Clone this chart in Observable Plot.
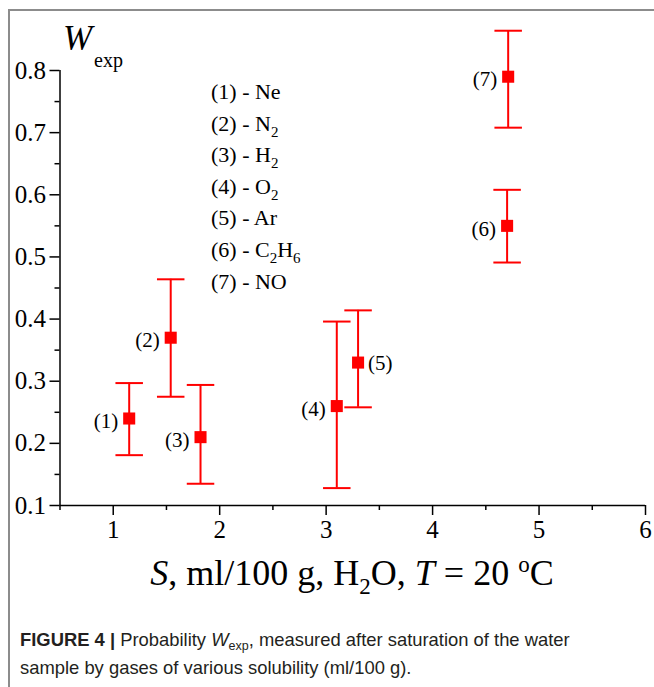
<!DOCTYPE html>
<html><head><meta charset="utf-8">
<script src="https://cdn.jsdelivr.net/npm/d3@7"></script>
<script src="https://cdn.jsdelivr.net/npm/@observablehq/plot@0.6"></script>
<style>
html,body{margin:0;padding:0;background:#fff;}
#wrap{position:relative;width:654px;height:687px;overflow:hidden;}
#border{position:absolute;left:8px;top:9px;width:660px;height:700px;border-top:2px solid #8c8c8c;border-left:2px solid #8c8c8c;}
#chart{position:absolute;left:0;top:0;}
#caption{position:absolute;left:20px;top:627px;font-family:"Liberation Sans",Arial,sans-serif;font-size:18.4px;line-height:26px;color:#231f20;white-space:nowrap;}
#caption .sub{font-size:12.5px;position:relative;top:4px;}
</style></head><body>
<div id="wrap"><div id="border"></div><div id="chart"></div>
<div id="caption"><b>FIGURE 4 |</b> Probability <i>W</i><span class="sub">exp</span>, measured after saturation of the water<br>sample by gases of various solubility (ml/100 g).</div></div>
<script>
const S = [1.15, 1.54, 1.82, 3.10, 3.30, 4.70, 4.71];
const W = [0.24, 0.37, 0.21, 0.26, 0.33, 0.55, 0.79];
const Wlo = [0.181, 0.275, 0.135, 0.128, 0.258, 0.491, 0.708];
const Whi = [0.297, 0.464, 0.294, 0.396, 0.414, 0.608, 0.864];
const pointLabels = ["(1)", "(2)", "(3)", "(4)", "(5)", "(6)", "(7)"];
const gases = ["Ne", "N_2", "H_2", "O_2", "Ar", "C_2H_6", "NO"];
const xTicks = [1, 2, 3, 4, 5, 6];
const xMinor = [0.5, 1.5, 2.5, 3.5, 4.5, 5.5];
const yTicks = [0.1, 0.2, 0.3, 0.4, 0.5, 0.6, 0.7, 0.8];
const yMinor = [0.15, 0.25, 0.35, 0.45, 0.55, 0.65, 0.75];

const data = S.map((s, i) => ({s, w: W[i], lo: Wlo[i], hi: Whi[i], label: pointLabels[i]}));
const serif = "'Liberation Serif', 'Times New Roman', serif";
const red = "#ff0000";
const capSymbol = {draw(ctx, size) { const r = Math.sqrt(size / Math.PI); ctx.moveTo(-r, 0); ctx.lineTo(r, 0); }};

const plot = Plot.plot({
  width: 654, height: 610,
  marginLeft: 59.5, marginRight: 9, marginTop: 70, marginBottom: 105,
  x: {domain: [0.5, 6]},
  y: {domain: [0.1, 0.8]},
  style: {fontFamily: serif, fontSize: "23px", color: "#000", background: "transparent", overflow: "visible"},
  marks: [
    Plot.axisX({ticks: xTicks, tickSize: 10, tickPadding: 5, strokeWidth: 1.5, fontSize: 25, tickFormat: d3.format("d"), label: null}),
    Plot.axisX({ticks: xMinor, tickSize: 5, text: null, strokeWidth: 1.5, label: null}),
    Plot.axisY({ticks: yTicks, tickSize: 10, tickPadding: 4, strokeWidth: 1.5, fontSize: 25, tickFormat: d3.format(".1f"), label: null}),
    Plot.axisY({ticks: yMinor, tickSize: 5, text: null, strokeWidth: 1.5, label: null}),
    Plot.ruleY([0.1], {strokeWidth: 1.5}),
    Plot.ruleX([0.5], {y1: 0.1, y2: 0.8, strokeWidth: 1.5}),
    Plot.ruleX(data, {x: "s", y1: "lo", y2: "hi", stroke: red, strokeWidth: 2}),
    Plot.dot(data, {x: "s", y: "lo", symbol: capSymbol, r: 13.75, stroke: red, strokeWidth: 2, fill: "none"}),
    Plot.dot(data, {x: "s", y: "hi", symbol: capSymbol, r: 13.75, stroke: red, strokeWidth: 2, fill: "none"}),
    Plot.dot(data, {x: "s", y: "w", symbol: "square", r: 6.8, fill: red, stroke: "none"}),
    Plot.text(data.filter(d => d.label !== "(5)"), {x: "s", y: "w", text: "label", textAnchor: "end", dx: -11, dy: 3, fontSize: 21, fill: "#000"}),
    Plot.text(data.filter(d => d.label === "(5)"), {x: "s", y: "w", text: "label", textAnchor: "start", dx: 10, dy: 1, fontSize: 21, fill: "#000"})
  ]
});
document.getElementById("chart").appendChild(plot);

const svg = d3.select(plot);
// legend
const lg = svg.append("g").attr("font-family", serif).attr("font-size", 22).attr("fill", "#000").attr("text-anchor", "start");
gases.forEach((g, i) => {
  const t = lg.append("text").attr("x", 211).attr("y", 99 + i * 31.6);
  t.append("tspan").text(`${pointLabels[i]} - `);
  let shifted = false;
  g.split(/(_\d)/).filter(p => p.length).forEach(p => {
    if (p[0] === "_") {
      t.append("tspan").attr("font-size", 15).attr("dy", 6).text(p.slice(1));
      shifted = true;
    } else {
      const ts = t.append("tspan").text(p);
      if (shifted) { ts.attr("dy", -6); shifted = false; }
    }
  });
});
// y label
svg.append("text").attr("x", 63).attr("y", 50).attr("text-anchor", "start").attr("font-family", serif).attr("font-size", 35).attr("font-style", "italic").text("W");
svg.append("text").attr("x", 94).attr("y", 67).attr("text-anchor", "start").attr("font-family", serif).attr("font-size", 20).text("exp");
// x label
const xt = svg.append("text").attr("x", 352).attr("y", 585).attr("text-anchor", "middle").attr("font-family", serif).attr("font-size", 36).attr("fill", "#000");
xt.append("tspan").attr("font-style", "italic").text("S");
xt.append("tspan").text(", ml/100 g, H");
xt.append("tspan").attr("font-size", 23).attr("dy", 9).text("2");
xt.append("tspan").attr("dy", -9).text("O, ");
xt.append("tspan").attr("font-style", "italic").text("T");
xt.append("tspan").text(" = 20 ");
xt.append("tspan").attr("font-size", 23).attr("dy", -13).text("o");
xt.append("tspan").attr("dy", 13).text("C");
</script>
</body></html>
